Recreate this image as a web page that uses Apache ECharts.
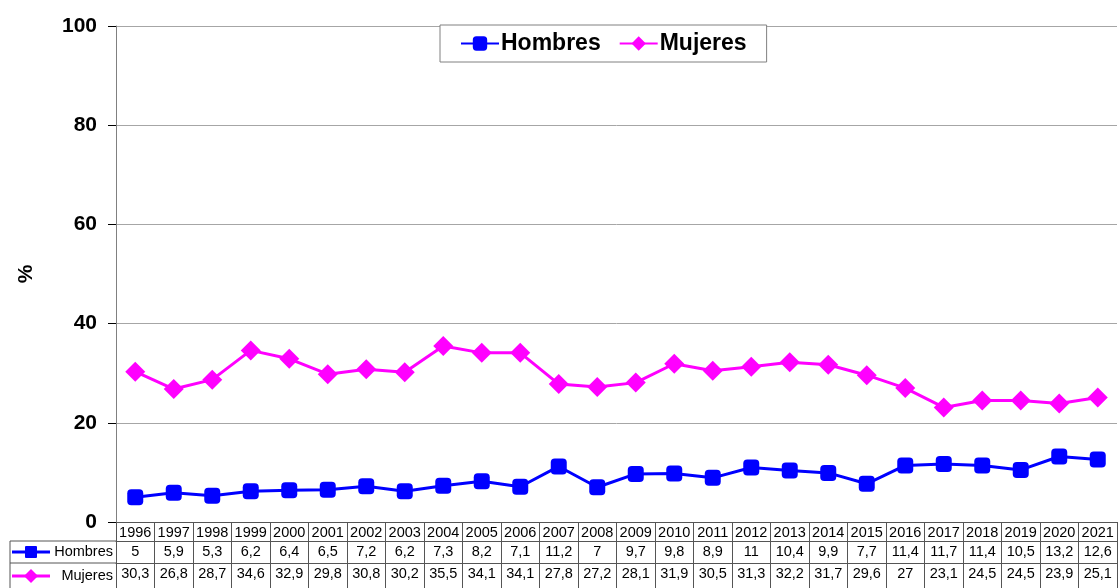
<!DOCTYPE html>
<html>
<head>
<meta charset="utf-8">
<script src="https://cdn.jsdelivr.net/npm/echarts@6/dist/echarts.min.js"></script>
<style>
  html, body { margin: 0; padding: 0; background: #fff; }
  #chart { width: 1118px; height: 588px; }
</style>
</head>
<body>
<div id="chart"></div>
<script>
/* ---------- datos ---------- */
const years = ['1996', '1997', '1998', '1999', '2000', '2001', '2002', '2003', '2004', '2005', '2006', '2007', '2008',
    '2009', '2010', '2011', '2012', '2013', '2014', '2015', '2016', '2017', '2018', '2019', '2020', '2021'];
const hombres = [5, 5.9, 5.3, 6.2, 6.4, 6.5, 7.2, 6.2, 7.3, 8.2, 7.1, 11.2, 7, 9.7, 9.8, 8.9, 11, 10.4, 9.9, 7.7, 11.4, 11.7, 11.4, 10.5, 13.2, 12.6];
const mujeres = [30.3, 26.8, 28.7, 34.6, 32.9, 29.8, 30.8, 30.2, 35.5, 34.1, 34.1, 27.8, 27.2, 28.1, 31.9, 30.5, 31.3, 32.2, 31.7, 29.6, 27, 23.1, 24.5, 24.5, 23.9, 25.1];
const yTicks = { min: 0, max: 100, interval: 20 };

const fmt = v => String(v).replace('.', ',');
const font = 'Liberation Sans, Arial, sans-serif';
const BLUE = '#0000ff', MAG = '#ff00ff';

/* fila de la tabla de datos = eje de categorías extra */
const tableAxis = (data, offset, tickLen) => ({
    type: 'category',
    gridIndex: 0,
    position: 'bottom',
    offset: offset,
    data: data,
    boundaryGap: true,
    axisLine: { show: true, lineStyle: { color: '#555', width: 1 } },
    axisTick: { show: true, length: tickLen, lineStyle: { color: '#555', width: 1 } },
    axisLabel: { interval: 0, margin: 3, color: '#000', fontSize: 14.5, fontFamily: font },
    splitLine: { show: false }
});

const chart = echarts.init(document.getElementById('chart'));
chart.setOption({
    backgroundColor: '#fff',
    animation: false,
    textStyle: { fontFamily: font },
    grid: { left: 116, right: 1, top: 26, bottom: 66 },
    legend: {
        top: 25,
        left: 440,
        backgroundColor: '#fff',
        borderColor: '#808080',
        borderWidth: 1,
        padding: [7, 20, 7, 20],
        itemGap: 18,
        itemWidth: 38,
        itemHeight: 18,
        textStyle: { fontSize: 23, fontWeight: 'bold', color: '#000', fontFamily: font, padding: [0, 0, 0, -3] },
        data: ['Hombres', 'Mujeres']
    },
    xAxis: [
        tableAxis(years, 0, 19),
        tableAxis(hombres.map(fmt), 19, 22),
        tableAxis(mujeres.map(fmt), 41, 25)
    ],
    yAxis: {
        type: 'value',
        min: yTicks.min,
        max: yTicks.max,
        interval: yTicks.interval,
        name: '%',
        nameLocation: 'middle',
        nameGap: 79,
        nameTextStyle: { fontSize: 21, fontWeight: 'bold', color: '#000', fontFamily: font },
        axisLine: { show: true, lineStyle: { color: '#808080', width: 1 } },
        axisTick: { show: true, length: 8, lineStyle: { color: '#000' } },
        axisLabel: { margin: 19, fontSize: 21, fontWeight: 'bold', color: '#000', fontFamily: font },
        splitLine: { show: true, lineStyle: { color: '#a6a6a6', width: 1 } }
    },
    series: [
        {
            name: 'Hombres',
            type: 'line',
            xAxisIndex: 0,
            data: hombres,
            symbol: 'roundRect',
            symbolSize: 16,
            color: BLUE,
            lineStyle: { width: 3, color: BLUE },
            itemStyle: { color: BLUE }
        },
        {
            name: 'Mujeres',
            type: 'line',
            xAxisIndex: 0,
            data: mujeres,
            symbol: 'diamond',
            symbolSize: 20,
            color: MAG,
            lineStyle: { width: 3, color: MAG },
            itemStyle: { color: MAG }
        }
    ],
    /* columna de rótulos de la tabla */
    graphic: [
        { type: 'line', shape: { x1: 10, y1: 541, x2: 116, y2: 541 }, style: { stroke: '#555', lineWidth: 1 } },
        { type: 'line', shape: { x1: 10, y1: 563, x2: 116, y2: 563 }, style: { stroke: '#555', lineWidth: 1 } },
        { type: 'line', shape: { x1: 10, y1: 541, x2: 10, y2: 588 }, style: { stroke: '#555', lineWidth: 1 } },
        { type: 'line', shape: { x1: 12, y1: 552, x2: 50, y2: 552 }, style: { stroke: BLUE, lineWidth: 3 } },
        { type: 'rect', shape: { x: 25, y: 546, width: 12, height: 12, r: 1 }, style: { fill: BLUE } },
        { type: 'text', x: 113, y: 552, style: { text: 'Hombres', fontSize: 14.5, fontFamily: font, fill: '#000', align: 'right', verticalAlign: 'middle' } },
        { type: 'line', shape: { x1: 12, y1: 576, x2: 50, y2: 576 }, style: { stroke: MAG, lineWidth: 3 } },
        { type: 'polygon', shape: { points: [[31, 569], [38, 576], [31, 583], [24, 576]] }, style: { fill: MAG } },
        { type: 'text', x: 113, y: 576, style: { text: 'Mujeres', fontSize: 14.5, fontFamily: font, fill: '#000', align: 'right', verticalAlign: 'middle' } }
    ]
});
</script>
</body>
</html>
